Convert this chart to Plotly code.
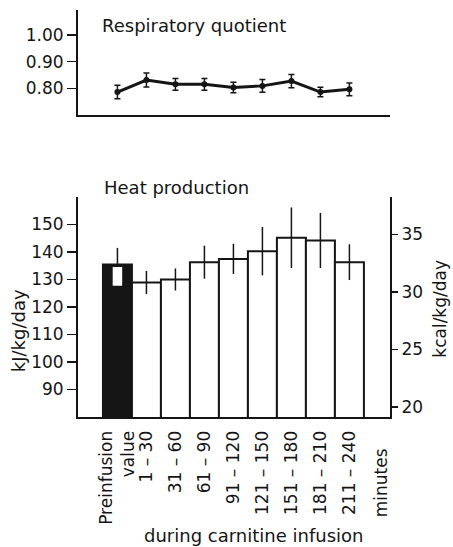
import plotly.graph_objects as go

categories = ["Preinfusion<br>value", "1 – 30", "31 – 60", "61 – 90", "91 – 120",
              "121 – 150", "151 – 180", "181 – 210", "211 – 240"]
heat_kj = [135.5, 128.9, 130.0, 136.3, 137.5, 140.3, 145.2, 144.2, 136.3]
heat_sd = [6.0, 4.2, 4.0, 6.0, 5.5, 8.8, 11.0, 10.0, 6.5]
rq = [0.786, 0.831, 0.815, 0.815, 0.803, 0.809, 0.827, 0.786, 0.796]
rq_sd = [0.025, 0.026, 0.022, 0.022, 0.020, 0.024, 0.025, 0.018, 0.024]
KJ_PER_KCAL = 4.184

FONT = "DejaVu Sans"
INK = "#151515"

colors = [INK] + ["white"] * (len(categories) - 1)
err_minus = [0] + heat_sd[1:]

fig = go.Figure()

# Heat production bars
fig.add_trace(go.Bar(
    x=categories, y=heat_kj, width=1.0,
    marker=dict(color=colors, line=dict(color=INK, width=2)),
    error_y=dict(type="data", array=heat_sd, arrayminus=err_minus,
                 color=INK, thickness=1.5, width=0),
    xaxis="x", yaxis="y", showlegend=False, hoverinfo="skip"))

# white inner box showing lower SD of preinfusion value
fig.add_trace(go.Bar(
    x=categories[:1], y=[heat_sd[0] + 1.3], base=[heat_kj[0] - heat_sd[0] - 2.0],
    width=0.38,
    marker=dict(color="white", line=dict(color=INK, width=1.5)),
    xaxis="x", yaxis="y", showlegend=False, hoverinfo="skip"))

# invisible trace to carry the kcal axis
fig.add_trace(go.Scatter(
    x=categories, y=[v / KJ_PER_KCAL for v in heat_kj], mode="markers",
    marker=dict(opacity=0), xaxis="x", yaxis="y3",
    showlegend=False, hoverinfo="skip"))

# Respiratory quotient
fig.add_trace(go.Scatter(
    x=categories, y=rq, mode="lines+markers",
    line=dict(color=INK, width=3),
    marker=dict(color=INK, size=6),
    error_y=dict(type="data", array=rq_sd, color=INK, thickness=1.5, width=3),
    xaxis="x2", yaxis="y2", showlegend=False, hoverinfo="skip"))

xrange = [-1.36, 9.40]
tickfont = dict(family=FONT, size=17, color=INK)

fig.update_layout(
    template="none",
    width=453, height=547,
    margin=dict(l=78, r=63, t=10, b=130, pad=0),
    paper_bgcolor="white", plot_bgcolor="white",
    barmode="overlay",
    font=dict(family=FONT, color=INK),
    xaxis=dict(domain=[0, 1], anchor="y", range=xrange, automargin=False,
               categoryorder="array", categoryarray=categories,
               showline=True, linecolor=INK, linewidth=2,
               ticks="", tickangle=-90, ticklabelstandoff=5,
               tickfont=dict(family=FONT, size=17, color=INK),
               showgrid=False, zeroline=False),
    yaxis=dict(domain=[0, 0.5405], anchor="x", range=[80, 160], automargin=False,
               tickvals=[90, 100, 110, 120, 130, 140, 150],
               showline=True, linecolor=INK, linewidth=2,
               ticks="outside", ticklen=9, tickwidth=1.5, tickcolor=INK,
               tickfont=tickfont, showgrid=False, zeroline=False),
    yaxis3=dict(overlaying="y", side="right", anchor="x", automargin=False,
                range=[80 / KJ_PER_KCAL, 160 / KJ_PER_KCAL],
                tickvals=[20, 25, 30, 35],
                showline=True, linecolor=INK, linewidth=2,
                ticks="outside", ticklen=6, tickwidth=1.5, tickcolor=INK,
                tickfont=tickfont, showgrid=False, zeroline=False),
    xaxis2=dict(domain=[0, 1], anchor="y2", range=xrange, automargin=False,
                categoryorder="array", categoryarray=categories,
                showline=True, linecolor=INK, linewidth=2,
                ticks="", showticklabels=False,
                showgrid=False, zeroline=False),
    yaxis2=dict(domain=[0.742, 1], anchor="x2", range=[0.70, 1.093], automargin=False,
                tickvals=[0.80, 0.90, 1.00], tickformat=".2f",
                showline=True, linecolor=INK, linewidth=2,
                ticks="outside", ticklen=9, tickwidth=1.5, tickcolor=INK,
                tickfont=tickfont, showgrid=False, zeroline=False),
)

ann_font = dict(family=FONT, size=18, color=INK)
fig.add_annotation(text="Respiratory quotient", xref="paper", yref="paper",
                   x=0.0705, y=0.9607, xanchor="left", yanchor="middle",
                   showarrow=False, font=ann_font)
fig.add_annotation(text="Heat production", xref="paper", yref="paper",
                   x=0.077, y=0.5627, xanchor="left", yanchor="middle",
                   showarrow=False, font=ann_font)
fig.add_annotation(text="kJ/kg/day", xref="paper", yref="paper",
                   x=-0.192, y=0.211, xanchor="center", yanchor="middle",
                   textangle=-90, showarrow=False, font=ann_font)
fig.add_annotation(text="kcal/kg/day", xref="paper", yref="paper",
                   x=1.162, y=0.265, xanchor="center", yanchor="middle",
                   textangle=-90, showarrow=False,
                   font=dict(family=FONT, size=17, color=INK))
fig.add_annotation(text="minutes", xref="x", yref="paper",
                   x=9.1, y=-0.162, xanchor="center", yanchor="middle",
                   textangle=-90, showarrow=False,
                   font=dict(family=FONT, size=17, color=INK))
fig.add_annotation(text="during carnitine infusion", xref="paper", yref="paper",
                   x=0.561, y=-0.29, xanchor="center", yanchor="middle",
                   showarrow=False, font=dict(family=FONT, size=18, color=INK))

fig.write_html("out.html",
               config={"displayModeBar": False, "staticPlot": True},
               post_script="document.body.style.margin='0px';"
                           "document.body.style.overflow='hidden';")
